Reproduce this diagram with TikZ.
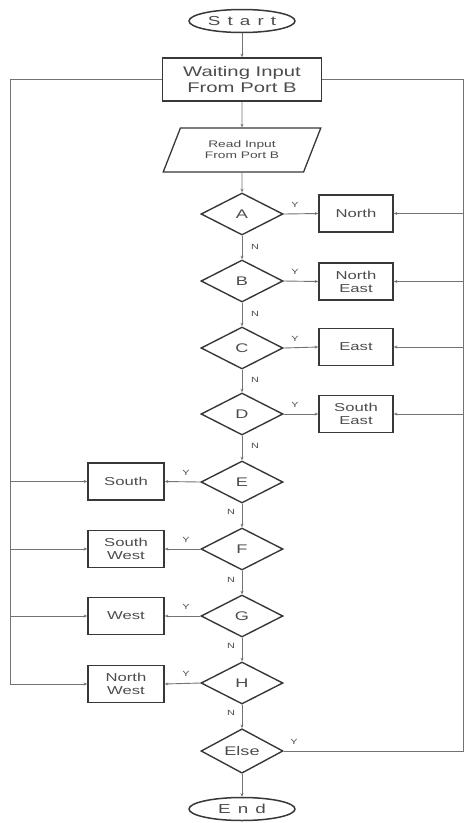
\documentclass[tikz,border=0pt]{standalone}
\usepackage{fontspec}
\setmainfont{Liberation Sans}[FakeStretch=1.45]
\newfontfamily\spaced{Liberation Sans}[FakeStretch=1.45,LetterSpace=55]
\usetikzlibrary{shapes.geometric,arrows.meta}
\definecolor{edgecol}{gray}{0.22}
\definecolor{txtcol}{gray}{0.3}
\definecolor{linecol}{gray}{0.45}
\begin{document}
\begin{tikzpicture}[x=1pt,y=-1pt,
  every node/.style={text=txtcol},
  term/.style={ellipse,draw=edgecol,line width=1.5pt,minimum width=106pt,minimum height=23pt,inner sep=0pt,font=\fontsize{13}{15}\selectfont},
  procbox/.style={rectangle,draw=edgecol,line width=1.6pt,align=center,inner sep=1pt},
  smallbox/.style={procbox,minimum width=74pt,minimum height=37pt,font=\fontsize{11.5}{13}\selectfont},
  io/.style={trapezium,trapezium left angle=60,trapezium right angle=120,trapezium stretches=true,draw=edgecol,line width=1.3pt,minimum width=158pt,minimum height=44pt,inner sep=0pt,align=center,font=\fontsize{9.5}{11}\selectfont},
  decision/.style={diamond,draw=edgecol,line width=1.4pt,minimum width=82pt,minimum height=42pt,inner sep=0pt,font=\fontsize{12.5}{14}\selectfont},
  conn/.style={draw=linecol,line width=0.9pt},
  arr/.style={conn,-{Stealth[length=3.5pt,width=3pt]}},
  lbl/.style={font=\fontsize{7.5}{8}\selectfont,inner sep=0pt}
]
\useasboundingbox (0,0) rectangle (465,823);
% main column
\node[term] (start) at (242,21) {\spaced Start};
\node[procbox,minimum width=159pt,minimum height=43pt,font=\fontsize{14}{16}\selectfont] (wait) at (242,79.5) {Waiting Input\\From Port B};
\node[io] (read) at (242,150) {Read Input\\From Port B};
\node[decision] (dA) at (242,214) {A};
\node[decision] (dB) at (242,281) {B};
\node[decision] (dC) at (242,348) {C};
\node[decision] (dD) at (242,414) {D};
\node[decision] (dE) at (242,482) {E};
\node[decision] (dF) at (242,549) {F};
\node[decision] (dG) at (242,616) {G};
\node[decision] (dH) at (242,683) {H};
\node[decision] (dElse) at (242,751) {Else};
\node[term] (end) at (242,809) {\spaced End};
% right boxes
\node[smallbox] (bN) at (356,213.5) {North};
\node[smallbox] (bNE) at (356,281.5) {North\\East};
\node[smallbox] (bEa) at (356,347) {East};
\node[smallbox] (bSE) at (356,414) {South\\East};
% left boxes
\node[smallbox,minimum width=76pt] (bS) at (126,481.5) {South};
\node[smallbox,minimum width=76pt] (bSW) at (126,549) {South\\West};
\node[smallbox,minimum width=76pt] (bW) at (126,616) {West};
\node[smallbox,minimum width=76pt] (bNW) at (126,684) {North\\West};
% main flow
\draw[arr] (start) -- (wait);
\draw[arr] (wait) -- (read);
\draw[arr] (read) -- (dA);
\draw[arr] (dA) -- (dB);
\draw[arr] (dB) -- (dC);
\draw[arr] (dC) -- (dD);
\draw[arr] (dD) -- (dE);
\draw[arr] (dE) -- (dF);
\draw[arr] (dF) -- (dG);
\draw[arr] (dG) -- (dH);
\draw[arr] (dH) -- (dElse);
\draw[arr] (dElse) -- (end);
% Y branches
\draw[arr] (dA.east) -- (bN.west);
\draw[arr] (dB.east) -- (bNE.west);
\draw[arr] (dC.east) -- (bEa.west);
\draw[arr] (dD.east) -- (bSE.west);
\draw[arr] (dE.west) -- (bS.east);
\draw[arr] (dF.west) -- (bSW.east);
\draw[arr] (dG.west) -- (bW.east);
\draw[arr] (dH.west) -- (bNW.east);
% right bus
\coordinate (rt) at (463,79.5);
\coordinate (rb) at (463,751);
\draw[conn] (dElse.east) -- (rb) -- (rt) -- (wait.east);
\draw[arr] (bN.east -| rt) -- (bN.east);
\draw[arr] (bNE.east -| rt) -- (bNE.east);
\draw[arr] (bEa.east -| rt) -- (bEa.east);
\draw[arr] (bSE.east -| rt) -- (bSE.east);
% left bus
\coordinate (lt) at (10,79.5);
\draw[arr] (wait.west) -- (lt) -- (bNW.west -| lt) -- (bNW.west);
\draw[arr] (bS.west -| lt) -- (bS.west);
\draw[arr] (bSW.west -| lt) -- (bSW.west);
\draw[arr] (bW.west -| lt) -- (bW.west);
% labels
\node[lbl] (yA) at (295,205) {Y};
\node[lbl] (yB) at (295,272) {Y};
\node[lbl] (yC) at (295,339) {Y};
\node[lbl] (yD) at (295,405) {Y};
\node[lbl] (yE) at (186,473) {Y};
\node[lbl] (yF) at (186,540) {Y};
\node[lbl] (yG) at (186,607) {Y};
\node[lbl] (yH) at (186,674) {Y};
\node[lbl] (yElse) at (294,742) {Y};
\node[lbl] (nA) at (255,247) {N};
\node[lbl] (nB) at (255,314) {N};
\node[lbl] (nC) at (255,380) {N};
\node[lbl] (nD) at (255,446) {N};
\node[lbl] (nE) at (231,512) {N};
\node[lbl] (nF) at (231,580) {N};
\node[lbl] (nG) at (231,646) {N};
\node[lbl] (nH) at (231,713) {N};
\end{tikzpicture}
\end{document}
